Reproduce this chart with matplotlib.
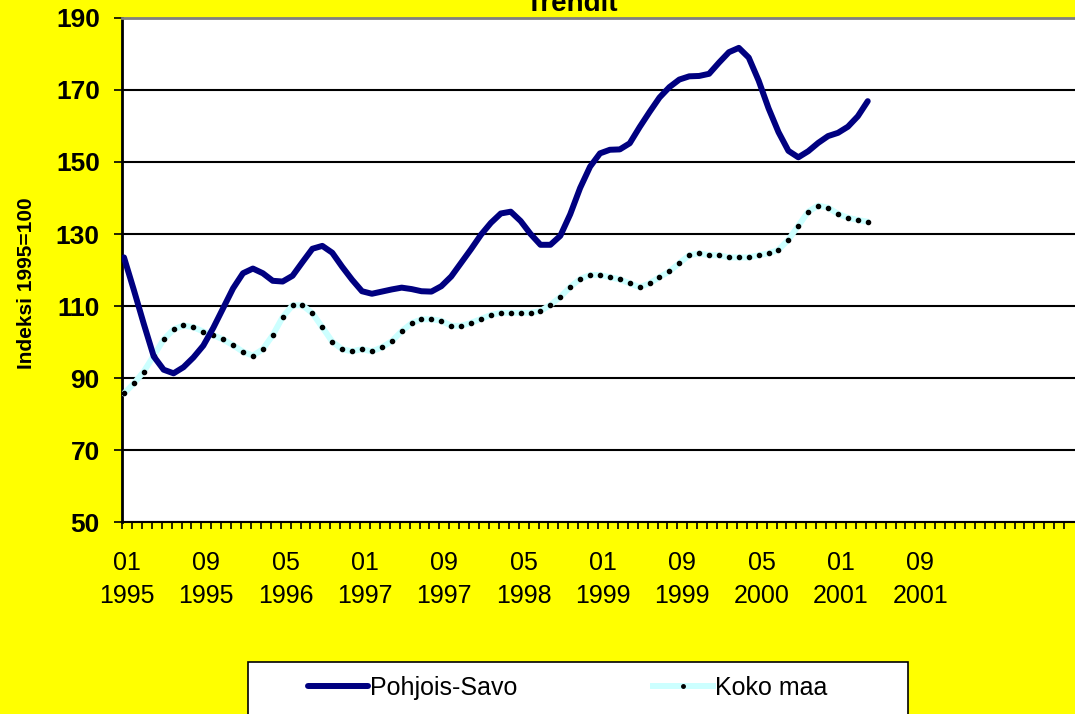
import numpy as np
import matplotlib
matplotlib.use("Agg")
import matplotlib.pyplot as plt
from matplotlib.lines import Line2D
from matplotlib.patches import Rectangle

plt.rcParams['font.family'] = ['Liberation Sans', 'DejaVu Sans']

# monthly trend index, 1995=100 (Jan 1995 .. Apr 2001)
pohjois_savo = [
    123.5, 114.4, 105.0, 96.0, 92.3, 91.3, 93.0, 95.7, 99.0, 103.9,
    109.4, 114.9, 119.1, 120.4, 119.1, 117.0, 116.8, 118.4, 122.2, 125.9,
    126.7, 124.8, 120.9, 117.3, 114.1, 113.4, 114.0, 114.6, 115.1, 114.7,
    114.1, 114.0, 115.5, 118.2, 122.0, 125.8, 129.8, 133.1, 135.7, 136.2,
    133.6, 130.0, 127.0, 127.0, 129.5, 135.5, 142.8, 148.7, 152.4, 153.4,
    153.5, 155.2, 159.7, 163.9, 167.9, 170.8, 172.9, 173.8, 173.9, 174.5,
    177.6, 180.5, 181.7, 179.0, 172.6, 164.9, 158.3, 153.1, 151.3, 153.0,
    155.3, 157.2, 158.1, 159.8, 162.7, 166.9,
]
koko_maa = [
    85.7, 88.5, 91.8, 96.2, 100.7, 103.5, 104.6, 104.1, 102.9, 101.9,
    100.7, 99.1, 97.3, 96.2, 98.0, 101.9, 106.9, 110.2, 110.2, 108.0,
    104.1, 100.1, 98.0, 97.4, 98.0, 97.4, 98.5, 100.2, 103.0, 105.2,
    106.3, 106.3, 105.9, 104.5, 104.5, 105.3, 106.4, 107.5, 108.1, 108.1,
    108.1, 108.1, 108.6, 110.3, 112.5, 115.3, 117.5, 118.6, 118.6, 118.0,
    117.4, 116.3, 115.2, 116.3, 118.0, 119.6, 121.9, 124.1, 124.6, 124.1,
    124.1, 123.5, 123.5, 123.5, 124.1, 124.6, 125.6, 128.4, 132.3, 136.2,
    137.9, 137.3, 135.6, 134.5, 133.9, 133.4,
]
tick_months = ['01', '09', '05', '01', '09', '05', '01', '09', '05', '01', '09']
tick_years = ['1995', '1995', '1996', '1997', '1997', '1998', '1999', '1999', '2000', '2001', '2001']
n_categories = 96

W, H = 1075, 714
fig = plt.figure(figsize=(W / 100, H / 100), dpi=100)
fig.patch.set_facecolor('#FFFF00')

ax = fig.add_axes([122 / W, 1 - 522 / H, (W - 122) / W, 504 / H])
ax.set_facecolor('white')

ax.plot(np.arange(len(pohjois_savo)), pohjois_savo, color='#000080', lw=4.3,
        solid_joinstyle='round', solid_capstyle='round', zorder=4)
ax.plot(np.arange(len(koko_maa)), koko_maa, color='#CCFFFF', lw=4.3,
        solid_joinstyle='round', solid_capstyle='round',
        marker='o', markersize=3, markerfacecolor='black',
        markeredgecolor='black', zorder=3)

ax.set_ylim(50, 190)
ax.set_yticks(np.arange(50, 191, 20))
ax.grid(axis='y', color='black', lw=1.5)
ax.set_axisbelow(True)
ax.tick_params(axis='y', direction='out', length=6, width=1.2, pad=10,
               labelsize=19)
for lab in ax.get_yticklabels():
    lab.set_fontweight('bold')

ax.set_xlim(-0.2, n_categories - 0.1)
ax.set_xticks(np.arange(0, 8 * len(tick_months), 8) + 0.3)
ax.set_xticklabels([m + '\n' + y for m, y in zip(tick_months, tick_years)],
                   linespacing=1.47)
ax.set_xticks(np.arange(n_categories) - 0.2, minor=True)
ax.tick_params(axis='x', which='major', length=0, pad=21, labelsize=18)
ax.tick_params(axis='x', which='minor', direction='out', length=5, width=1.2)

ax.spines['right'].set_visible(False)
ax.spines['top'].set_color('#808080')
ax.spines['top'].set_linewidth(2)
ax.spines['left'].set_color('black')
ax.spines['left'].set_linewidth(2)
ax.spines['bottom'].set_color('black')
ax.spines['bottom'].set_linewidth(1.5)

fig.text(572 / W, 1 - 11 / H, 'Trendit', ha='center', va='baseline',
         fontsize=20, fontweight='bold')
fig.text(27 / W, 1 - 283 / H, 'Indeksi 1995=100', rotation=90,
         ha='center', va='center', fontsize=15, fontweight='bold')

# legend box runs off the bottom of the picture
fig.add_artist(Rectangle((248 / W, -0.05), (908 - 248) / W, 0.05 + (714 - 662) / H,
                         transform=fig.transFigure, facecolor='white',
                         edgecolor='black', lw=1.2))
handles = [
    Line2D([], [], color='#000080', lw=4.3, solid_capstyle='round'),
    Line2D([], [], color='#CCFFFF', lw=4.3, marker='o', markersize=2.5,
           markerfacecolor='black', markeredgecolor='black'),
]
fig.legend(handles, ['Pohjois-Savo', 'Koko maa'], ncol=2, frameon=False,
           loc='center left', bbox_to_anchor=(308 / W, 1 - 688 / H),
           borderaxespad=0, borderpad=0, fontsize=18, handlelength=2.4,
           handletextpad=0.1, columnspacing=5.4, numpoints=1)

fig.savefig('out.png', dpi=100, facecolor=fig.get_facecolor())
